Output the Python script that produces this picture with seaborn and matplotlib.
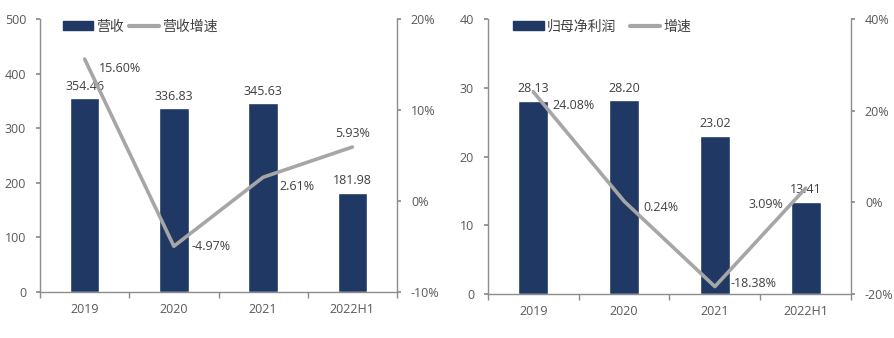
import matplotlib
matplotlib.use("Agg")
import matplotlib.pyplot as plt
import seaborn as sns
import pandas as pd
from matplotlib.ticker import FuncFormatter, FixedLocator
from matplotlib.patches import Patch
from matplotlib.lines import Line2D

categories = ["2019", "2020", "2021", "2022H1"]
revenue = [354.46, 336.83, 345.63, 181.98]
revenue_growth = [15.60, -4.97, 2.61, 5.93]
profit = [28.13, 28.20, 23.02, 13.41]
profit_growth = [24.08, 0.24, -18.38, 3.09]

sns.set_theme(style="white")
plt.rcParams["font.family"] = ["Open Sans", "Noto Sans CJK SC", "DejaVu Sans"]

BAR = "#203864"
LINE = "#A6A6A6"
TXT = "#404040"
TICK = "#595959"
SPINE = "#8C8C8C"

fig = plt.figure(figsize=(8.95, 3.38), dpi=100)
axL = fig.add_axes([40 / 895, 1 - 292 / 338, 357 / 895, 273 / 338])
axR = fig.add_axes([488 / 895, 1 - 294 / 338, 363 / 895, 275 / 338])


def panel(ax, bars, growth, ylim, y2lim, y2ticks, ystep, bar_name, line_name,
          line_offsets, legend_anchor, colspace):
    df = pd.DataFrame({"cat": categories, "val": bars})
    sns.barplot(data=df, x="cat", y="val", order=categories, color=BAR,
                width=0.33, saturation=1, ax=ax)
    ax.set_xlim(-0.5, len(categories) - 0.5)
    ax.set_ylim(*ylim)
    ax.set_yticks([ylim[0] + i * ystep for i in range(int((ylim[1] - ylim[0]) / ystep) + 1)])
    ax.set_xlabel("")
    ax.set_ylabel("")
    for i, v in enumerate(bars):
        ax.annotate(f"{v:.2f}", (i, v), xytext=(0, 4), textcoords="offset points",
                    ha="center", va="bottom", fontsize=9, color=TXT)
    ax2 = ax.twinx()
    gdf = pd.DataFrame({"cat": categories, "g": growth})
    sns.lineplot(data=gdf, x="cat", y="g", color=LINE, linewidth=2.6, sort=False, ax=ax2)
    ax2.set_ylim(*y2lim)
    ax2.set_yticks(y2ticks)
    ax2.yaxis.set_major_formatter(FuncFormatter(lambda v, p: f"{v:.0f}%"))
    ax2.set_ylabel("")
    ax2.set_xlabel("")
    ax.set_xlim(-0.5, len(categories) - 0.5)
    for i, v in enumerate(growth):
        dx, dy, ha = line_offsets[i]
        ax2.annotate(f"{v:.2f}%", (i, v), xytext=(dx, dy), textcoords="offset points",
                     ha=ha, va="center", fontsize=9, color=TXT)
    for a in (ax, ax2):
        a.spines["top"].set_visible(False)
        for s in ("left", "right", "bottom"):
            a.spines[s].set_color(SPINE)
            a.spines[s].set_linewidth(1.0)
    ax.spines["right"].set_visible(False)
    ax2.spines["left"].set_visible(False)
    ax2.spines["bottom"].set_visible(False)
    ax.tick_params(axis="y", left=True, length=3, color=SPINE, labelsize=9, labelcolor=TICK, pad=7)
    ax2.tick_params(axis="y", right=True, length=3, color=SPINE, labelsize=9, labelcolor=TICK, pad=7)
    ax.set_xticks(range(len(categories)))
    ax.set_xticklabels(categories)
    ax.tick_params(axis="x", which="major", length=0, labelsize=9, labelcolor=TICK, pad=8)
    ax.xaxis.set_minor_locator(FixedLocator([i - 0.5 for i in range(len(categories) + 1)]))
    ax.tick_params(axis="x", which="minor", bottom=True, length=4, color=SPINE)
    handles = [Patch(facecolor=BAR, edgecolor=BAR), Line2D([0], [0], color=LINE, linewidth=3)]
    ax.legend(handles, [bar_name, line_name], loc="center left", bbox_to_anchor=legend_anchor,
              ncol=2, frameon=False, fontsize=10, handlelength=2.2, handleheight=0.6,
              columnspacing=colspace, handletextpad=0.2, borderpad=0, borderaxespad=0,
              labelcolor=TXT)
    return ax2


panel(axL, revenue, revenue_growth, (0, 500), (-10, 20), [-10, 0, 10, 20], 100,
      "营收", "营收增速",
      [(10, -7, "left"), (13, 0, "left"), (11.5, -6.5, "left"), (0, 10, "center")],
      (0.064, 0.97), 0.36)
panel(axR, profit, profit_growth, (0, 40), (-20, 40), [-20, 0, 20, 40], 10,
      "归母净利润", "增速",
      [(14, -9.5, "left"), (14, -4.5, "left"), (11.5, 2.5, "left"), (-16, -11.5, "right")],
      (0.069, 0.971), 1.0)

fig.savefig("out.png", dpi=100)
